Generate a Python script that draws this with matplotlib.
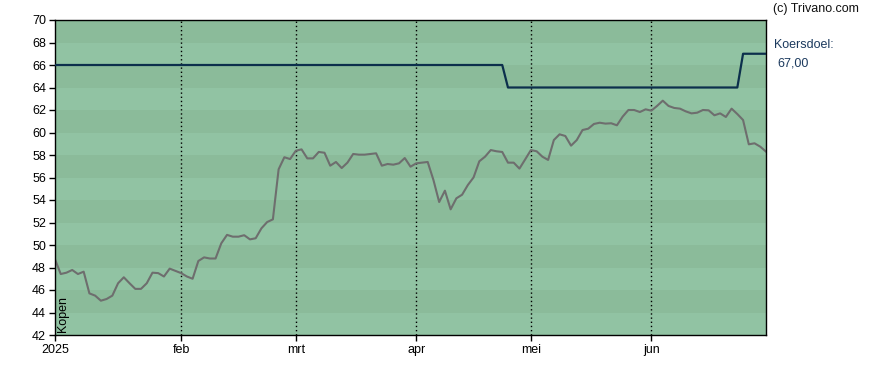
import matplotlib
matplotlib.use('Agg')
import matplotlib.pyplot as plt

# trading days per month, jan..jun 2025
month_labels = ['2025', 'feb', 'mrt', 'apr', 'mei', 'jun']
month_days = [22, 20, 21, 20, 21, 21]

# closing prices, one per trading day
prices = [
    48.73, 47.42, 47.54, 47.78, 47.42, 47.63, 45.70, 45.50, 45.05, 45.20,
    45.50, 46.60, 47.13, 46.60, 46.10, 46.10, 46.60, 47.54, 47.50, 47.20,
    47.90, 47.70, 47.50, 47.20, 47.00, 48.58, 48.90, 48.80, 48.80, 50.15,
    50.90, 50.74, 50.74, 50.87, 50.50, 50.60, 51.48, 52.04, 52.28, 56.73,
    57.80, 57.64, 58.38, 58.50, 57.70, 57.70, 58.27, 58.20, 57.05, 57.38,
    56.84, 57.32, 58.09, 58.03, 58.03, 58.09, 58.15, 57.05, 57.20, 57.14,
    57.26, 57.73, 56.96, 57.26, 57.32, 57.38, 55.78, 53.82, 54.83, 53.17,
    54.15, 54.47, 55.33, 56.01, 57.44, 57.85, 58.44, 58.33, 58.27, 57.32,
    57.32, 56.79, 57.61, 58.44, 58.33, 57.85, 57.56, 59.33, 59.84, 59.69,
    58.83, 59.33, 60.22, 60.34, 60.76, 60.87, 60.79, 60.82, 60.64, 61.41,
    62.00, 62.00, 61.82, 62.06, 61.94, 62.36, 62.83, 62.36, 62.18, 62.12,
    61.88, 61.70, 61.76, 62.00, 61.97, 61.53, 61.70, 61.38, 62.12, 61.64,
    61.11, 58.95, 59.04, 58.74, 58.30,
]

# koersdoel (target price) per trading day
target = [66.0] * 79 + [64.0] * 41 + [67.0] * 5

y_ticks = list(range(42, 71, 2))

fig = plt.figure(figsize=(8.88, 3.70), dpi=100)
ax = fig.add_axes([55 / 888, 35 / 370, 711 / 888, 315 / 370])
plt.rcParams['font.family'] = ['Liberation Sans', 'DejaVu Sans']

# alternating horizontal bands
for k, lo in enumerate(range(42, 70, 2)):
    col = '#91c3a3' if k % 2 == 0 else '#8bbb9a'
    ax.axhspan(lo, lo + 2, color=col, lw=0, zorder=0)

tick_pos = [sum(month_days[:m]) for m in range(len(month_days))]
for p in tick_pos[1:]:
    ax.axvline(p, color='black', lw=1, ls=(0, (1, 2)), zorder=1)

x = list(range(len(prices)))
ax.plot(x, target, color='#0c2f4c', lw=1.6, zorder=3)
ax.plot(x, prices, color='#6e6e6e', lw=1.5, zorder=2)

ax.set_xlim(0, len(prices) - 1)
ax.set_ylim(42, 70)
ax.set_yticks(y_ticks)
ax.set_yticklabels([str(v) for v in y_ticks], fontsize=9, family='Liberation Sans')
ax.set_xticks(tick_pos)
ax.set_xticklabels(month_labels, fontsize=9, family='Liberation Sans')
ax.tick_params(direction='out', length=4.5, width=1, colors='black', pad=2)
for s in ax.spines.values():
    s.set_color('black')
    s.set_linewidth(1)

ax.text(0.011, 0.01, 'Kopen', rotation=90, ha='center', va='bottom',
        transform=ax.transAxes, fontsize=9, family='Liberation Sans')

fig.text(773 / 888, 1 - 9 / 370, '(c) Trivano.com', ha='left', va='center',
         fontsize=9, family='Liberation Sans', color='#111111')
fig.text(774 / 888, 1 - 45 / 370, 'Koersdoel:', ha='left', va='center',
         fontsize=9, family='Liberation Sans', color='#1c3a5e')
fig.text(777 / 888, 1 - 63 / 370, '67,00', ha='left', va='center',
         fontsize=9, family='Liberation Sans', color='#1c3a5e')

fig.savefig('out.png', dpi=100)
